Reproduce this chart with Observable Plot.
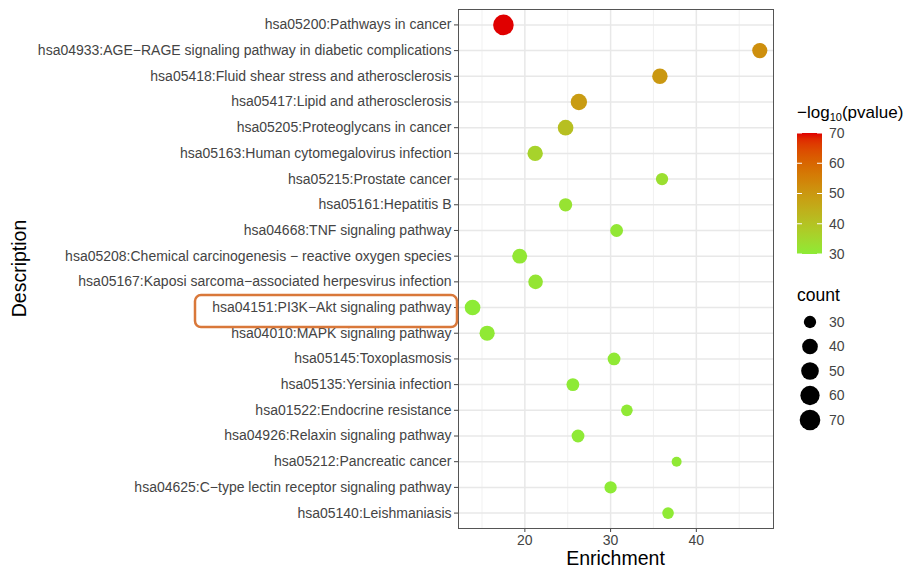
<!DOCTYPE html>
<html><head><meta charset="utf-8">
<script src="https://cdn.jsdelivr.net/npm/d3@7"></script>
<script src="https://cdn.jsdelivr.net/npm/@observablehq/plot@0.6"></script>
<style>
body{margin:0;background:#fff;}
#chart svg{font-family:"Liberation Sans",Arial,Helvetica,sans-serif;}
</style>
</head><body><div id="chart"></div>
<script>
const descriptions = [
  "hsa05200:Pathways in cancer",
  "hsa04933:AGE\u2212RAGE signaling pathway in diabetic complications",
  "hsa05418:Fluid shear stress and atherosclerosis",
  "hsa05417:Lipid and atherosclerosis",
  "hsa05205:Proteoglycans in cancer",
  "hsa05163:Human cytomegalovirus infection",
  "hsa05215:Prostate cancer",
  "hsa05161:Hepatitis B",
  "hsa04668:TNF signaling pathway",
  "hsa05208:Chemical carcinogenesis \u2212 reactive oxygen species",
  "hsa05167:Kaposi sarcoma\u2212associated herpesvirus infection",
  "hsa04151:PI3K\u2212Akt signaling pathway",
  "hsa04010:MAPK signaling pathway",
  "hsa05145:Toxoplasmosis",
  "hsa05135:Yersinia infection",
  "hsa01522:Endocrine resistance",
  "hsa04926:Relaxin signaling pathway",
  "hsa05212:Pancreatic cancer",
  "hsa04625:C\u2212type lectin receptor signaling pathway",
  "hsa05140:Leishmaniasis"
];
const enrichment = [17.5, 47.4, 35.75, 26.3, 24.75, 21.2, 36.0, 24.75, 30.7, 19.4, 21.25, 13.9, 15.6, 30.4, 25.6, 31.9, 26.2, 37.7, 30.0, 36.7];
const counts     = [70, 38, 39, 43, 40, 39, 30, 32, 31, 37, 36, 40, 38, 31, 31, 29, 31, 28, 30, 29];
const neglog10p  = [70, 52, 50, 49, 41, 36, 33, 32, 31, 31, 31.5, 30, 30.5, 30.5, 30.2, 30.5, 30.2, 30.6, 30.1, 30.3];
const xTicks = [20, 30, 40];
const xMinorTicks = [15, 25, 35, 45];
const colorBreaks = [30, 40, 50, 60, 70];
const countBreaks = [30, 40, 50, 60, 70];
const highlighted = "hsa04151:PI3K\u2212Akt signaling pathway";
const COUNT_MIN = 28, COUNT_MAX = 70;
const P_MIN = 30, P_MAX = 70;

const data = descriptions.map((d, i) => ({description: d, enrichment: enrichment[i], count: counts[i], p: neglog10p[i]}));
const sizeOf = c => Math.sqrt(Math.max(0, c - COUNT_MIN));

const chart = Plot.plot({
  width: 905, height: 570,
  marginLeft: 458, marginRight: 132, marginTop: 9, marginBottom: 42,
  style: {fontFamily: '"Liberation Sans",Arial,Helvetica,sans-serif', fontSize: "14px", color: "#444", background: "#fff", overflow: "visible"},
  x: {domain: [12.26, 49.0], ticks: xTicks, tickSize: 4, tickPadding: 3, label: null},
  y: {type: "point", domain: descriptions, padding: 0.6, round: false, tickSize: 4, tickPadding: 3, label: null},
  color: {type: "linear", domain: [P_MIN, P_MAX], range: ["#8DEB36", "#E00000"], interpolate: "lab"},
  r: {type: "linear", domain: [0, Math.sqrt(COUNT_MAX - COUNT_MIN)], range: [5, 10.3]},
  marks: [
    Plot.ruleX(xMinorTicks, {stroke: "#ededed", strokeWidth: 0.8}),
    Plot.ruleX(xTicks, {stroke: "#e8e8e8", strokeWidth: 1.5}),
    Plot.ruleY(descriptions, {stroke: "#e8e8e8", strokeWidth: 1.5}),
    Plot.frame({stroke: "#555", strokeWidth: 1}),
    Plot.dot(data, {x: "enrichment", y: "description", r: d => sizeOf(d.count), fill: "p", stroke: null, fillOpacity: 1})
  ]
});
document.getElementById("chart").appendChild(chart);

const svg = d3.select(chart);
const yS = chart.scale("y"), cS = chart.scale("color"), rS = chart.scale("r");

// axis titles
svg.append("text").attr("x", 615.5).attr("y", 565).attr("text-anchor", "middle")
  .attr("font-size", 19.5).attr("fill", "#000").text("Enrichment");
svg.append("text").attr("transform", "translate(26,268.5) rotate(-90)").attr("text-anchor", "middle")
  .attr("font-size", 19.5).attr("fill", "#000").text("Description");

// highlight box around the PI3K-Akt label
const hy = yS.apply(highlighted);
svg.append("rect").attr("x", 195).attr("y", hy - 12).attr("width", 262).attr("height", 32)
  .attr("rx", 6).attr("fill", "none").attr("stroke", "#D9783A").attr("stroke-width", 2.5);

// colour legend
const lg = svg.append("g").attr("text-anchor", "start");
const title = lg.append("text").attr("x", 797).attr("y", 118).attr("font-size", 17).attr("fill", "#000").attr("text-anchor", "start");
title.append("tspan").text("\u2212log");
title.append("tspan").attr("font-size", 11).attr("dy", 3).text("10");
title.append("tspan").attr("dy", -3).text("(pvalue)");

const barX = 797, barW = 25, barTop = 133, barBot = 254;
const defs = svg.append("defs");
const grad = defs.append("linearGradient").attr("id", "pgrad").attr("x1", 0).attr("y1", 1).attr("x2", 0).attr("y2", 0);
d3.range(0, 1.0001, 0.05).forEach(t => {
  grad.append("stop").attr("offset", t).attr("stop-color", cS.apply(P_MIN + t * (P_MAX - P_MIN)));
});
lg.append("rect").attr("x", barX).attr("y", barTop).attr("width", barW).attr("height", barBot - barTop).attr("fill", "url(#pgrad)");
const by = v => barBot - (v - P_MIN) / (P_MAX - P_MIN) * (barBot - barTop);
colorBreaks.forEach(v => {
  const yy = by(v);
  lg.append("line").attr("x1", barX).attr("x2", barX + 5).attr("y1", yy).attr("y2", yy).attr("stroke", "#fff").attr("stroke-width", 1);
  lg.append("line").attr("x1", barX + barW - 5).attr("x2", barX + barW).attr("y1", yy).attr("y2", yy).attr("stroke", "#fff").attr("stroke-width", 1);
  lg.append("text").attr("x", 829).attr("y", yy).attr("dy", "0.35em").attr("font-size", 14).attr("fill", "#444").attr("text-anchor", "start").text(v);
});

// size legend
lg.append("text").attr("x", 797).attr("y", 301).attr("font-size", 17.5).attr("fill", "#000").attr("text-anchor", "start").text("count");
countBreaks.forEach((v, i) => {
  const yy = 322 + i * 24.5;
  lg.append("circle").attr("cx", 810).attr("cy", yy).attr("r", rS.apply(sizeOf(v))).attr("fill", "#000");
  lg.append("text").attr("x", 829).attr("y", yy).attr("dy", "0.35em").attr("font-size", 14).attr("fill", "#444").attr("text-anchor", "start").text(v);
});
</script>
</body></html>
